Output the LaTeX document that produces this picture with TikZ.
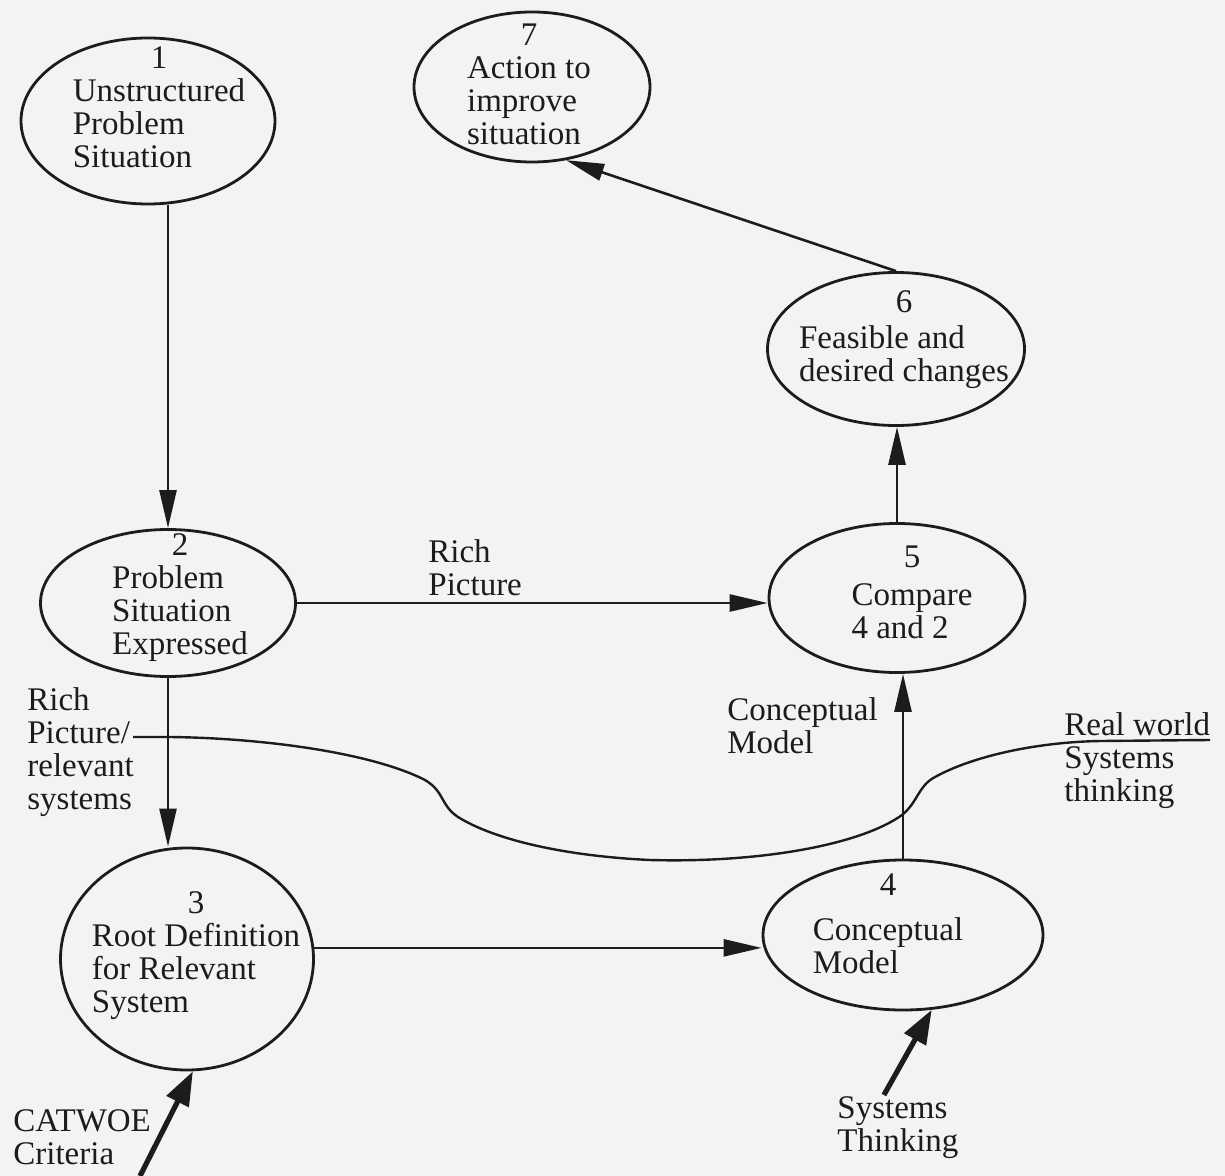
\documentclass[tikz,border=0pt]{standalone}
\usepackage{fontspec}
\setmainfont{Liberation Serif}
\usepackage{tikz}
\usetikzlibrary{shapes.geometric,arrows.meta}
\definecolor{ink}{HTML}{1C1C1C}
\definecolor{paper}{HTML}{F3F3F3}
\newcommand{\bodyfont}{\fontsize{16.5}{16.5}\selectfont}
\newcommand{\stagelabel}[3]{\begin{tabular}{@{}c@{}}#1\\[#2]\begin{tabular}[t]{@{}l@{}}#3\end{tabular}\end{tabular}}
\newcommand{\notelines}[1]{\begin{tabular}{@{}l@{}}#1\end{tabular}}

\begin{document}
\begin{tikzpicture}[x=0.5pt, y=-0.5pt,
  stage/.style={ellipse, draw=ink, line width=1.4pt, inner sep=0pt},
  stagetext/.style={anchor=north, inner sep=0pt, text=ink, font=\bodyfont},
  note/.style={anchor=north west, inner sep=0pt, text=ink, font=\bodyfont},
  flow/.style={draw=ink, line width=1.3pt, -{Triangle[length=19pt,width=8.5pt]}},
  feed/.style={draw=ink, line width=2.6pt, -{Triangle[length=17pt,width=12pt]}},
  link/.style={draw=ink, line width=1.2pt}]
\fill[paper] (0,0) rectangle (1225,1176);
\useasboundingbox (0,0) rectangle (1225,1176);

% the seven stages
\node[stage, minimum width=127pt, minimum height=83pt] (n1) at (148,121) {};
\node[stage, minimum width=127.5pt, minimum height=73.5pt] (n2) at (168,603) {};
\node[stage, minimum width=126.5pt, minimum height=111pt] (n3) at (187,959) {};
\node[stage, minimum width=140pt, minimum height=75pt] (n4) at (903,935) {};
\node[stage, minimum width=128pt, minimum height=74.5pt] (n5) at (897,598) {};
\node[stage, minimum width=128.5pt, minimum height=76.5pt] (n6) at (896,349) {};
\node[stage, minimum width=118pt, minimum height=75pt] (n7) at (532,87) {};

\node[stagetext] (t1) at (159,45) {\stagelabel{1}{0pt}{Unstructured\\Problem\\Situation}};
\node[stagetext] (t2) at (180,532) {\stagelabel{2}{0pt}{Problem\\Situation\\Expressed}};
\node[stagetext] (t3) at (196,890) {\stagelabel{3}{0pt}{Root Definition\\for Relevant\\System}};
\node[stagetext] (t4) at (888,872) {\stagelabel{4}{6pt}{Conceptual\\Model}};
\node[stagetext] (t5) at (912,544) {\stagelabel{5}{2.5pt}{Compare\\4 and 2}};
\node[stagetext] (t6) at (904,289) {\stagelabel{6}{1.5pt}{Feasible and\\desired changes}};
\node[stagetext] (t7) at (529,22) {\stagelabel{7}{0pt}{Action to\\improve\\situation}};

% labels
\node[note] (lblRich) at (428,539) {\notelines{Rich\\Picture}};
\node[note] (lblRelevant) at (27,687) {\notelines{Rich\\Picture/\\relevant\\systems}};
\node[note] (lblModel) at (727,697) {\notelines{Conceptual\\Model}};
\node[note] (lblReal) at (1064,712) {\notelines{Real world\\Systems\\thinking}};
\node[note] (lblSysThink) at (837,1095) {\notelines{Systems\\Thinking}};
\node[note] (lblCatwoe) at (13,1108) {\notelines{CATWOE\\Criteria}};

% flows between stages
\draw[flow] (n1.south -| n2.north) -- (n2.north);
\draw[flow] (n2.south) -- (n2.south |- n3.north);
\draw[flow] (n2.east) -- (n2.east -| n5.west);
\draw[flow] (n3.5) -- (n3.5 -| n4.west);
\draw[flow] (n4.north) -- (n4.north |- n5.south);
\draw[flow] (n5.north) -- (n5.north |- n6.south);
\draw[flow] (n6.north) -- (n7.-65);

% inputs
\coordinate (cwStart) at (140,1176);
\draw[feed] (cwStart) -- (n3.-87);
\draw[feed] ([xshift=-7pt]lblSysThink.north) -- (n4.-69);

% real world / systems thinking line
\coordinate (rpEnd) at (133,737);
\coordinate (rwEnd) at (1210,740);
\draw[link] (rpEnd) -- (170,737) .. controls (260,738) and (370,752) .. (425,780)
  .. controls (445,792) and (440,805) .. (458,817)
  .. controls (495,840) and (565,856) .. (650,860)
  .. controls (760,863) and (860,845) .. (902,815)
  .. controls (918,802) and (918,786) .. (935,777)
  .. controls (975,755) and (1040,742) .. (1100,741) -- (rwEnd);
\end{tikzpicture}
\end{document}
